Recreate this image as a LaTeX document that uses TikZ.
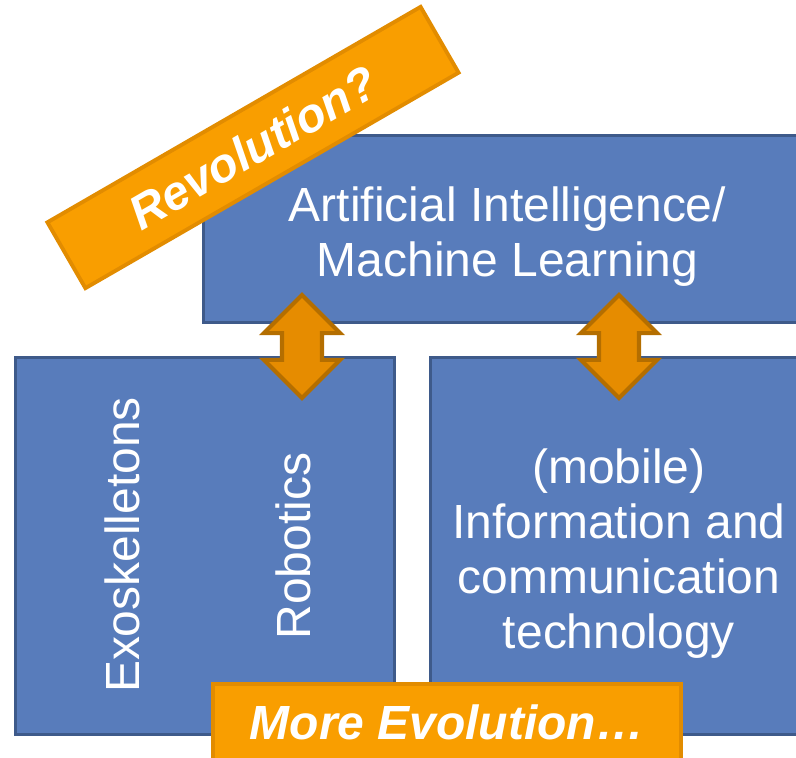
\documentclass[tikz,border=0pt]{standalone}
\usepackage{fontspec}
\setmainfont{Liberation Sans}
\usepackage{tikz}
\usetikzlibrary{shapes}
\usepackage{xcolor}
\definecolor{aiblue}{RGB}{88,124,187}
\definecolor{aiborder}{RGB}{62,90,138}
\definecolor{aiorange}{RGB}{249,158,0}
\definecolor{aiorangeline}{RGB}{226,140,0}
\definecolor{aiarrow}{RGB}{230,140,0}
\definecolor{aiarrowline}{RGB}{180,110,0}
\tikzstyle{banner} = [rectangle, draw=aiorangeline, fill=aiorange, line width=2.2pt, minimum height=1.52cm, text=white, font=\fontsize{27.3}{31.3}\selectfont\bfseries\itshape]
\tikzstyle{link} = [double arrow, draw=aiarrowline, fill=aiarrow, line width=2.4pt, double arrow head extend=0.36cm, minimum height=2.06cm, minimum width=0pt, inner xsep=0pt, inner ysep=0.36cm, rotate=90]

\begin{document}
\begin{tikzpicture}[
    x=0.02cm, y=-0.02cm,
    every node/.style={font=\fontsize{27.3}{31.3}\selectfont, text=white},
    box/.style={rectangle, draw=aiborder, fill=aiblue, line width=1.7pt, align=center}
]
\useasboundingbox (0,0) rectangle (796,758);

% Top box
\node[box, minimum width=12.18cm, minimum height=3.76cm] (ai) at (507.5,229) {};
\node[align=center] (aitext) at ([yshift=-0.16cm]ai.center) {Artificial Intelligence/\\Machine Learning};

% Lower boxes
\node[box, minimum width=7.6cm, minimum height=7.56cm] (left) at (205,546) {};
\node[rotate=90] (exo) at (122,545) {Exoskelletons};
\node[rotate=90] (robo) at (293,546) {Robotics};
\node[box, minimum width=7.56cm, minimum height=7.56cm] (ict) at (619,546) {};
\node[align=center] (icttext) at ([yshift=-0.16cm]ict.center) {(mobile)\\Information and\\communication\\technology};

% Links
\node[link] (linkA) at (302,346.5) {};
\node[link] (linkB) at (619,346.5) {};

% Banners
\node[banner, minimum width=8.62cm, rotate=30] (rev) at (253,147.5) {Revolution?};
\node[banner, minimum width=9.36cm] (evo) at (447,722) {More Evolution…};

\end{tikzpicture}
\end{document}
